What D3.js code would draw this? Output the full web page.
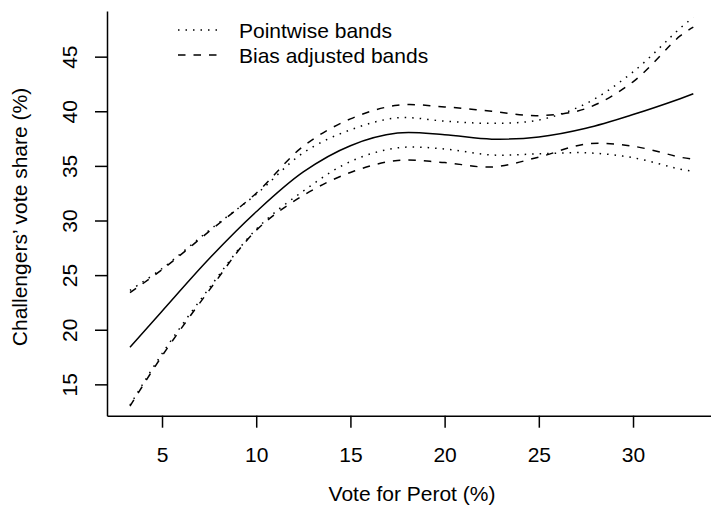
<html>
    <head>
        <script src="https://d3js.org/d3.v7.min.js"></script>
        <style>
            body { margin: 0; background: #fff; }
            text { font-family: "Liberation Sans", Arial, Helvetica, sans-serif; fill: #000; }
        </style>
    </head>
    <body>
        <svg id="svg" width="711" height="516"></svg>
        <script>
            // values
            var perotVote = [3.3, 5, 7.5, 10, 12.5, 15, 17.5, 20, 22.5, 25, 27.5, 30, 32.5, 33.2];
            var fit       = [18.4, 21.7, 26.5, 30.8, 34.45, 36.85, 38.0, 37.85, 37.45, 37.65, 38.45, 39.7, 41.15, 41.6];
            var pwUpper   = [23.6, 25.6, 29.1, 32.4, 36.2, 38.3, 39.4, 39.1, 38.9, 39.2, 40.7, 43.6, 47.6, 48.6];
            var pwLower   = [13.1, 17.8, 23.8, 29.2, 32.7, 35.4, 36.65, 36.55, 36.0, 36.1, 36.2, 35.75, 34.7, 34.5];
            var baUpper   = [23.4, 25.5, 29.0, 32.5, 36.8, 39.3, 40.55, 40.4, 40.0, 39.6, 40.25, 42.7, 46.9, 47.7];
            var baLower   = [13.0, 17.6, 23.6, 29.1, 32.3, 34.4, 35.5, 35.3, 34.9, 35.8, 37.0, 36.8, 35.8, 35.6];

            var xTicks = [5, 10, 15, 20, 25, 30];
            var yTicks = [15, 20, 25, 30, 35, 40, 45];
            var legendLabels = ["Pointwise bands", "Bias adjusted bands"];

            var svg = d3.select("svg");
            var fontSize = 21;

            var x = d3.scaleLinear().domain([2.08, 34.5]).range([107, 717.8]);
            var y = d3.scaleLinear().domain([12.13, 49.18]).range([415.7, 11]);

            // axes, L shaped like R bty="l"
            var xAxis = svg.append("g").attr("transform", "translate(0,415.7)")
                .call(d3.axisBottom(x).tickValues(xTicks).tickSize(12).tickSizeOuter(0));
            xAxis.selectAll("text").attr("y", 46.3).attr("dy", 0)
                .style("font-size", fontSize + "px");

            var yAxis = svg.append("g").attr("transform", "translate(107,0)")
                .call(d3.axisLeft(y).tickValues(yTicks).tickSize(12).tickSizeOuter(0));
            yAxis.selectAll("text").attr("transform", "rotate(-90)")
                .attr("x", 0).attr("y", -30).attr("dy", 0)
                .attr("text-anchor", "middle")
                .style("font-size", fontSize + "px");

            svg.selectAll(".domain, .tick line").attr("stroke", "#000").attr("stroke-width", 1.5);
            svg.selectAll(".tick text").attr("fill", "#000").attr("font-family", null);

            svg.append("text").attr("x", 412).attr("y", 501)
                .attr("text-anchor", "middle").style("font-size", fontSize + "px")
                .text("Vote for Perot (%)");
            svg.append("text").attr("transform", "translate(27,217) rotate(-90)")
                .attr("text-anchor", "middle").style("font-size", fontSize + "px")
                .text("Challengers\u2019 vote share (%)");

            var line = d3.line()
                .x(function(d){ return x(d[0]); })
                .y(function(d){ return y(d[1]); })
                .curve(d3.curveCatmullRom.alpha(0.5));

            function pairs(vals){
                return perotVote.map(function(v, i){ return [v, vals[i]]; });
            }

            var dotted = "1.5,6";
            var dashed = "7.5,8";

            var curves = [
                {vals: fit, dash: null},
                {vals: pwUpper, dash: dotted},
                {vals: pwLower, dash: dotted},
                {vals: baUpper, dash: dashed},
                {vals: baLower, dash: dashed}
            ];
            curves.forEach(function(c){
                svg.append("path").attr("d", line(pairs(c.vals)))
                    .attr("fill", "none")
                    .attr("stroke", "#000")
                    .attr("stroke-width", 1.5)
                    .attr("stroke-dasharray", c.dash);
            });

            // legend
            var legend = svg.append("g");
            [dotted, dashed].forEach(function(dash, i){
                var ly = 30 + i * 25;
                legend.append("line").attr("x1", 178).attr("x2", 220)
                    .attr("y1", ly).attr("y2", ly)
                    .attr("stroke", "#000").attr("stroke-width", 1.5)
                    .attr("stroke-dasharray", dash);
                legend.append("text").attr("x", 239).attr("y", ly + 7.5)
                    .style("font-size", fontSize + "px")
                    .text(legendLabels[i]);
            });
        </script>
    </body>
</html>
